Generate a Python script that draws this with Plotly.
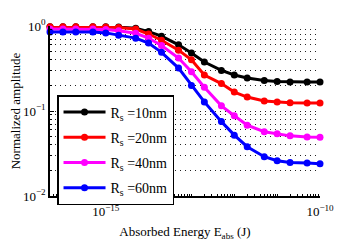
import numpy as np
import plotly.graph_objects as go

# Absorbed energy (J)
energy = [5e-17, 1e-16, 2e-16, 5e-16, 1e-15, 2e-15, 5e-15, 1e-14, 2e-14, 5e-14,
          1e-13, 2e-13, 5e-13, 1e-12, 2e-12, 5e-12, 1e-11, 2e-11, 5e-11, 1e-10]

amp_10nm = [0.98, 0.98, 0.98, 0.98, 0.98, 0.97, 0.94, 0.86, 0.76, 0.60,
            0.48, 0.377, 0.30, 0.265, 0.245, 0.228, 0.222, 0.22, 0.22, 0.22]
amp_20nm = [0.98, 0.98, 0.98, 0.98, 0.97, 0.96, 0.92, 0.805, 0.68, 0.52,
            0.40, 0.265, 0.21, 0.167, 0.146, 0.131, 0.128, 0.125, 0.124, 0.124]
amp_40nm = [0.92, 0.92, 0.92, 0.92, 0.91, 0.88, 0.82, 0.72, 0.59, 0.42,
            0.29, 0.19, 0.115, 0.088, 0.068, 0.057, 0.054, 0.051, 0.0495, 0.049]
amp_60nm = [0.85, 0.85, 0.85, 0.85, 0.83, 0.78, 0.72, 0.63, 0.49, 0.32,
            0.20, 0.128, 0.075, 0.052, 0.038, 0.029, 0.026, 0.0248, 0.0245, 0.024]

series_names = ["R<sub>s</sub> =10nm", "R<sub>s</sub> =20nm",
                "R<sub>s</sub> =40nm", "R<sub>s</sub> =60nm"]
series_values = [amp_10nm, amp_20nm, amp_40nm, amp_60nm]
series_colors = ["#000000", "#ff0000", "#ff00ff", "#0000ff"]

x_tickvals = [1e-15, 1e-10]
x_ticktext = ["10<sup>\u221215</sup>", "10<sup>\u221210</sup>"]
y_tickvals = [1e-2, 1e-1, 1e0]
y_ticktext = ["10<sup>\u22122</sup>", "10<sup>\u22121</sup>", "10<sup>0</sup>"]

y_minor = [m * 10.0 ** e for e in (-2, -1) for m in range(2, 10)]
x_minor = [m * 10.0 ** e for e in range(-17, -10) for m in range(1, 10)]
x_minor = [v for v in x_minor if 5e-17 <= v <= 1e-10]

FONT = "Liberation Serif"

fig = go.Figure()
for name, vals, col in zip(series_names, series_values, series_colors):
    fig.add_trace(go.Scatter(
        x=energy, y=vals, name=name, mode="lines+markers",
        line=dict(color=col, width=3),
        marker=dict(color=col, size=7),
        cliponaxis=False,
        legendgroup=name,
    ))

# the page body has an 8px margin, so the figure is offset by (8, 8)
fig.update_layout(
    width=349, height=243,
    margin=dict(l=42, r=37, t=18, b=55, autoexpand=False),
    paper_bgcolor="white", plot_bgcolor="white",
    font=dict(family=FONT, size=13, color="black"),
    showlegend=True,
    legend=dict(
        x=0.026, y=0.594, xanchor="left", yanchor="top",
        bgcolor="white", bordercolor="black", borderwidth=1.5,
        font=dict(family=FONT, size=14, color="black"),
        tracegroupgap=4,
        itemwidth=42,
    ),
    xaxis=dict(
        type="log", range=[np.log10(5e-17), -10], automargin=False,
        tickmode="array", tickvals=x_tickvals, ticktext=x_ticktext,
        ticks="inside", ticklen=4, tickwidth=1, tickcolor="black",
        ticklabelstandoff=3,
        showline=True, linecolor="black", linewidth=1.5,
        showgrid=False, zeroline=False, mirror=False,
        tickfont=dict(family=FONT, size=13),
        minor=dict(tickmode="array", tickvals=x_minor, ticks="inside",
                   ticklen=2, tickwidth=1, tickcolor="black", showgrid=False),
        title=dict(text="Absorbed Energy E<sub>abs</sub> (J)",
                   font=dict(family=FONT, size=13), standoff=9),
    ),
    yaxis=dict(
        type="log", range=[-2, 0], automargin=False,
        tickmode="array", tickvals=y_tickvals, ticktext=y_ticktext,
        ticks="inside", ticklen=4, tickwidth=1, tickcolor="black",
        showline=True, linecolor="black", linewidth=1.5,
        showgrid=True, gridcolor="#222222", gridwidth=1, griddash="1px,4px",
        zeroline=False, mirror=False,
        tickfont=dict(family=FONT, size=13),
        minor=dict(tickmode="array", tickvals=y_minor, ticks="inside",
                   ticklen=2, tickwidth=1, tickcolor="black",
                   showgrid=True, gridcolor="#222222", gridwidth=1,
                   griddash="1px,4px"),
        title=dict(text="Normalized amplitude",
                   font=dict(family=FONT, size=13), standoff=12),
    ),
)

fig.write_html("out.html")
